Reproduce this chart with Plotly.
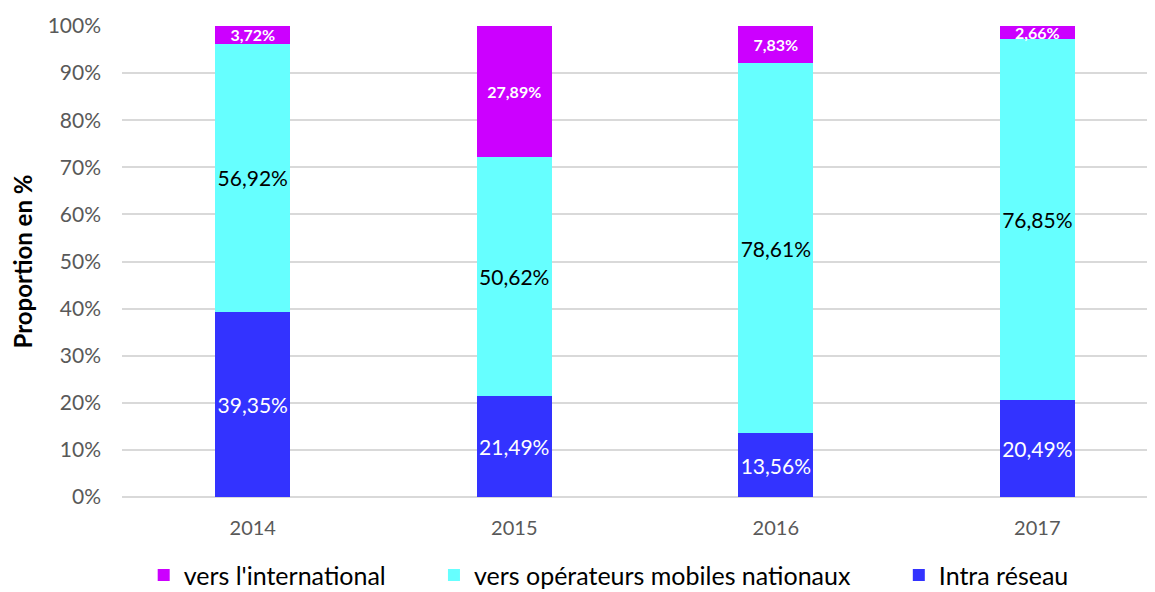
import plotly.graph_objects as go

years = ["2014", "2015", "2016", "2017"]
intra_reseau = [39.35, 21.49, 13.56, 20.49]
operateurs_nationaux = [56.92, 50.62, 78.61, 76.85]
international = [3.72, 27.89, 7.83, 2.66]

FONT = "Lato, 'Open Sans', sans-serif"

fig = go.Figure()

fig.add_trace(go.Bar(
    x=years, y=intra_reseau, name="Intra réseau",
    marker=dict(color="#3333FF", line=dict(width=0)),
    texttemplate="%{y:.2f}%", textposition="inside", insidetextanchor="middle",
    textangle=0,
    textfont=dict(size=21, color="white", family=FONT),
    constraintext="none", legend="legend3",
))
fig.add_trace(go.Bar(
    x=years, y=operateurs_nationaux, name="vers opérateurs mobiles nationaux",
    marker=dict(color="#66FFFF", line=dict(width=0)),
    texttemplate="%{y:.2f}%", textposition="inside", insidetextanchor="middle",
    textangle=0,
    textfont=dict(size=21, color="black", family=FONT),
    constraintext="none", legend="legend2",
))
fig.add_trace(go.Bar(
    x=years, y=international, name="vers l'international",
    marker=dict(color="#CC00FF", line=dict(width=0)),
    texttemplate="<b>%{y:.2f}%</b>", textposition="inside", insidetextanchor="middle",
    textangle=0,
    textfont=dict(size=16, color="white", family=FONT),
    constraintext="none", legend="legend",
))

legend_style = dict(
    orientation="h", yanchor="middle", y=-0.166, xanchor="left",
    font=dict(size=25, color="black", family=FONT),
    bgcolor="rgba(0,0,0,0)", itemwidth=30,
)

fig.update_layout(
    barmode="stack",
    bargap=0.713,
    separators=", ",
    width=1155, height=592,
    margin=dict(l=114, r=8, t=18, b=103, autoexpand=False),
    plot_bgcolor="white", paper_bgcolor="white",
    font=dict(family=FONT),
    showlegend=True,
    legend=dict(legend_style, x=0.021),
    legend2=dict(legend_style, x=0.302),
    legend3=dict(legend_style, x=0.752),
    xaxis=dict(
        range=[-0.5, 3.45], showgrid=False, showline=False, ticks="",
        automargin=False, ticklabelstandoff=17,
        tickfont=dict(size=20, color="#595959", family=FONT),
    ),
    yaxis=dict(
        range=[0, 100], dtick=10, ticksuffix="%",
        showgrid=True, gridcolor="#D9D9D9", gridwidth=1.5,
        zeroline=True, zerolinecolor="#D9D9D9", zerolinewidth=1.5,
        automargin=False, ticklabelstandoff=20,
        tickfont=dict(size=21, color="#595959", family=FONT),
        title=dict(text="<b>Proportion en %</b>", font=dict(size=24, color="black", family=FONT), standoff=10),
    ),
)

fig.write_html("out.html")
